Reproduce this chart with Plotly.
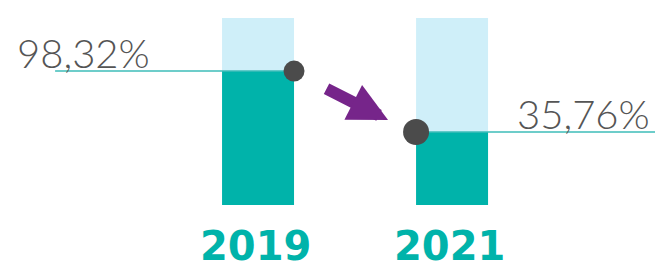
import plotly.graph_objects as go

# ---- data ----
years = ["2019", "2021"]
labels = ["98,32%", "35,76%"]          # displayed values
fill_share = [0.716, 0.39]              # dark fill level of each bar (share of bar)
full_share = [1.0, 1.0]                 # light background bar

TEAL = "#00b3aa"
LIGHT = "#cfeff9"
DOT = "#4b4b4b"
LINE = "#3dbdb8"
PURPLE = "#76258a"
GRAY = "#555555"

xs = [0, 1]
BW = 0.371

fig = go.Figure()
fig.add_trace(go.Bar(x=xs, y=full_share, width=BW, marker=dict(color=LIGHT, line_width=0),
                     hoverinfo="skip"))
fig.add_trace(go.Bar(x=xs, y=fill_share, width=BW, marker=dict(color=TEAL, line_width=0),
                     hoverinfo="skip"))

# leader lines
fig.add_trace(go.Scatter(x=[-1.046, xs[0] + BW / 2], y=[fill_share[0], fill_share[0]],
                         mode="lines", line=dict(color=LINE, width=1.5), hoverinfo="skip"))
fig.add_trace(go.Scatter(x=[xs[1] - BW / 2, 2.05], y=[fill_share[1], fill_share[1]],
                         mode="lines", line=dict(color=LINE, width=1.5), hoverinfo="skip"))
# dots
fig.add_trace(go.Scatter(x=[xs[0] + BW / 2], y=[fill_share[0]], mode="markers",
                         marker=dict(size=21, color=DOT), hoverinfo="skip"))
fig.add_trace(go.Scatter(x=[xs[1] - BW / 2], y=[fill_share[1]], mode="markers",
                         marker=dict(size=26, color=DOT), hoverinfo="skip"))

# value labels
fig.add_annotation(x=-1.253, y=fill_share[0], xref="x", yref="y", text=labels[0],
                   showarrow=False, xanchor="left", yanchor="bottom", yshift=-8,
                   font=dict(family="Lato", size=40, color=GRAY, weight=300))
fig.add_annotation(x=2.03, y=fill_share[1], xref="x", yref="y", text=labels[1],
                   showarrow=False, xanchor="right", yanchor="bottom", yshift=-8,
                   font=dict(family="Lato", size=40, color=GRAY, weight=300))

# year labels
for xi, yr in zip(xs, years):
    fig.add_annotation(x=xi - 0.015, y=-0.22, xref="x", yref="y", text="<b>%s</b>" % yr,
                       showarrow=False, xanchor="center", yanchor="middle",
                       font=dict(family="DejaVu Sans", size=40, color=TEAL, weight=900))

# arrow
fig.add_annotation(x=0.67, y=0.4545, xref="x", yref="y", ax=-63, ay=-32, text="",
                   showarrow=True, arrowhead=2, arrowsize=0.65, arrowwidth=12,
                   arrowcolor=PURPLE)

fig.update_layout(
    width=655, height=268, margin=dict(l=0, r=0, t=0, b=0),
    paper_bgcolor="white", plot_bgcolor="white",
    barmode="overlay", showlegend=False,
    xaxis=dict(range=[-1.330, 2.046], visible=False, fixedrange=True),
    yaxis=dict(range=[-0.337, 1.096], visible=False, fixedrange=True),
)

fig.write_html("out.html", config={"displayModeBar": False},
               post_script="document.body.style.margin='0';document.body.style.overflow='hidden';")
